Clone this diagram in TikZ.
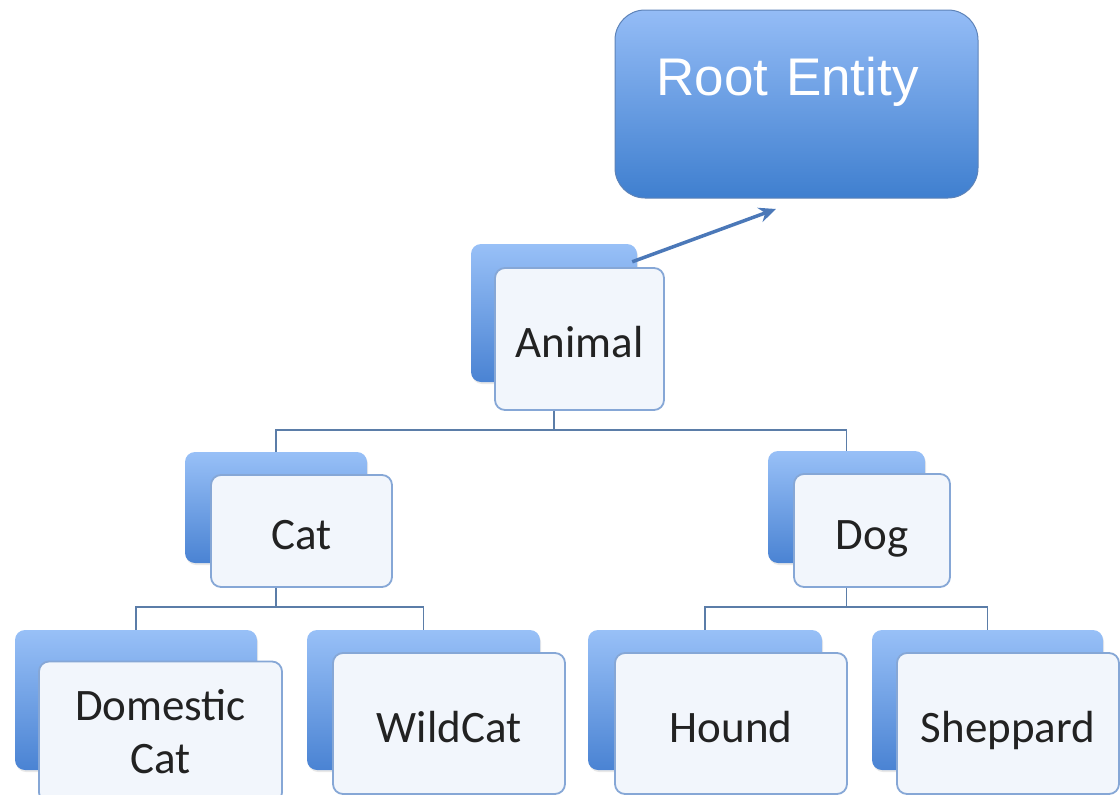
\documentclass[tikz,border=0pt]{standalone}
\usepackage{fontspec}
\newfontfamily\calib{Carlito}
\newfontfamily\arialf{Liberation Sans}
\usetikzlibrary{shadows,arrows.meta}
\definecolor{backtop}{HTML}{98C0F7}
\definecolor{backbot}{HTML}{4A83D3}
\definecolor{roottop}{HTML}{94BCF6}
\definecolor{rootbot}{HTML}{3F7FCF}
\definecolor{rootedge}{HTML}{5D83B8}
\definecolor{frontfill}{HTML}{F2F6FC}
\definecolor{frontedge}{HTML}{86A7D6}
\definecolor{connc}{HTML}{5B7DA8}
\definecolor{arrowc}{HTML}{4B78B8}
\definecolor{txt}{HTML}{222222}
\tikzset{
  backbox/.style={rectangle, draw=none, top color=backtop, bottom color=backbot,
    rounded corners=10pt, inner sep=0pt, minimum width=#1,
    drop shadow={opacity=0.18, shadow xshift=1pt, shadow yshift=-2pt}},
  dims/.style 2 args={minimum width=#1, minimum height=#2},
  frontbase/.style={rectangle, draw=frontedge, line width=1.8pt, fill=frontfill,
    rounded corners=10pt, inner sep=0pt, text=txt,
    font=\calib\fontsize{45}{53}\selectfont},
  frontbox/.style={frontbase, text height=37pt, text depth=0pt},
  rootbox/.style={rectangle, draw=rootedge, line width=1pt, top color=roottop, bottom color=rootbot,
    rounded corners=30pt, inner sep=0pt, text=white,
    font=\arialf\fontsize{53}{60}\selectfont, text height=0pt, text depth=18pt,
    text width=280pt, align=left},
  conn/.style={draw=connc, line width=1.8pt},
  upcall/.style={draw=arrowc, line width=3.5pt, -{Stealth[length=17pt,width=15pt]}}
}
\begin{document}
\begin{tikzpicture}[x=1pt,y=-1pt]
\useasboundingbox (0,0) rectangle (1120,795);

% root
\node[rootbox, dims={363pt}{188pt}] (root) at (796.5,104) {Root Entity};
\coordinate (rootin) at (776,209);

% bus lines
\coordinate (bus1) at (0,430);
\coordinate (bus2) at (0,607);

% back boxes
\node[backbox=166pt, minimum height=138pt] (animalB) at (554,313) {};
\node[backbox=182pt, minimum height=111pt] (catB) at (276,507.5) {};
\node[backbox=157pt, minimum height=112pt] (dogB) at (846.5,507) {};
\node[backbox=242pt, minimum height=140pt] (domB) at (136,700) {};
\node[backbox=233pt, minimum height=140pt] (wildB) at (423.5,700) {};
\node[backbox=234pt, minimum height=140pt] (houndB) at (705,700) {};
\node[backbox=231pt, minimum height=140pt] (shepB) at (987.5,700) {};

% front boxes
\node[frontbox, dims={169pt}{142pt}] (animalF) at (579.5,339) {Animal};
\node[frontbox, dims={181pt}{112pt}] (catF) at (301.5,531) {Cat};
\node[frontbox, dims={156pt}{113pt}] (dogF) at (872,530.5) {Dog};
\node[frontbase, dims={243pt}{141pt}, align=center] (domF) at (160.5,732) {Domestic\\Cat};
\node[frontbox, dims={232pt}{141pt}] (wildF) at (449,723.5) {WildCat};
\node[frontbox, dims={232pt}{141pt}] (houndF) at (731,723.5) {Hound};
\node[frontbox, dims={222pt}{141pt}] (shepF) at (1008,723.5) {Sheppard};

% connectors
\draw[conn] (animalB.center |- animalF.south) -- (animalB.center |- bus1) -| (catB.north);
\draw[conn] (animalB.center |- bus1) -| (dogB.north);
\draw[conn] (catB.center |- catF.south) -- (catB.center |- bus2) -| (domB.north);
\draw[conn] (catB.center |- bus2) -| (wildB.north);
\draw[conn] (dogB.center |- dogF.south) -- (dogB.center |- bus2) -| (houndB.north);
\draw[conn] (dogB.center |- bus2) -| (shepB.north);

% arrow to root
\draw[upcall] ([xshift=-5pt,yshift=-18pt]animalB.north east) -- (rootin);
\end{tikzpicture}
\end{document}
